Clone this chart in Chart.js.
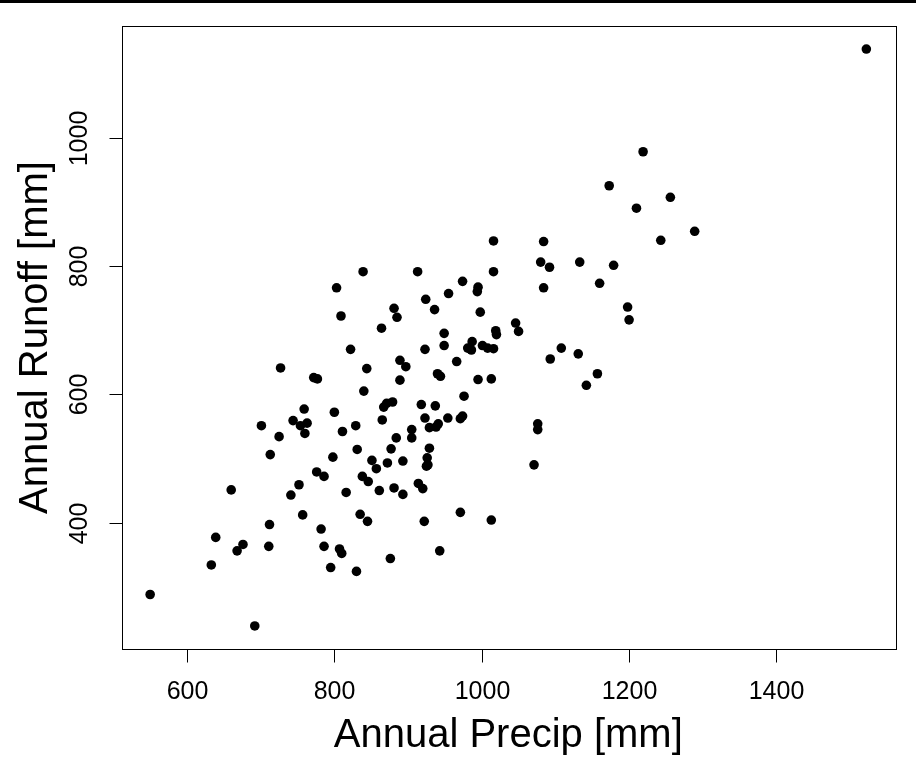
<!DOCTYPE html>
<html>
<head>
<meta charset="utf-8">
<script src="https://cdn.jsdelivr.net/npm/chart.js@4.4.0/dist/chart.umd.min.js"></script>
<style>
  html, body { margin: 0; padding: 0; background: #ffffff; }
  #c { display: block; }
</style>
</head>
<body>
<canvas id="c" width="916" height="771"></canvas>
<script>
// ---- Data ----
const precip = [
  759, 800, 867, 871, 879, 701, 744, 754, 763, 760, 725, 811, 829, 865, 905, 905, 884, 877, 872, 893,
  851, 857, 831, 798, 713, 776, 786, 752, 741, 816, 838, 846, 861, 881, 893, 914, 660, 757, 835, 845,
  712, 782, 639, 676, 668, 711, 786, 807, 810, 876, 633, 795, 830, 550, 692,
  839, 913, 803, 881, 885, 809, 864, 822, 889, 897, 889, 844, 840, 727, 772, 777,
  974, 995, 994, 924, 955, 936, 998, 949, 1019, 1020, 923, 949, 987, 981, 986, 1001, 1008, 1016, 966, 940,
  944, 995, 1013, 976, 918, 937, 923, 954, 971, 974, 929, 938, 941, 929, 926, 925, 927, 920, 922, 971,
  1013, 943, 1016, 1016,
  1084, 1080, 1092, 1133, 1179, 1084, 1160, 1198, 1200, 1046, 1050, 1108, 1131, 1093, 1157, 1142, 1076, 1076, 1071,
  1219, 1173, 1256, 1210, 1289, 1243, 1522
];
const runoff = [
  577, 572, 580, 586, 588, 551, 559, 551, 555, 539, 534, 542, 551, 560, 545, 532, 532, 515, 493, 496,
  497, 484, 514, 502, 506, 479, 472, 459, 443, 447, 472, 464, 450, 454, 444, 461, 451, 412, 413, 402,
  397, 390, 377, 366, 356, 363, 363, 359, 352, 344, 334, 330, 324, 288, 239,
  791, 791, 766, 734, 720, 722, 703, 670, 653, 643, 622, 640, 605, 641, 626, 624,
  776, 767, 760, 748, 757, 732, 728, 695, 699, 693, 670, 676, 682, 672, 669, 676, 672, 671, 651, 632,
  628, 623, 624, 597, 584, 582, 563, 563, 562, 566, 548, 549, 554, 516, 501, 488, 490, 453, 402, 416,
  404, 356, 839, 791,
  838, 806, 798, 806, 801, 766, 773, 736, 716, 711, 698, 672, 663, 655, 632, 614, 554, 545, 490,
  978, 925, 907, 890, 854, 840, 1138
];
const xTicks = [600, 800, 1000, 1200, 1400];
const yTicks = [400, 600, 800, 1000];
const xTitle = "Annual Precip [mm]";
const yTitle = "Annual Runoff [mm]";

// R-style axis extension: data range padded by 4% on each side
function rRange(arr) {
  const lo = Math.min(...arr), hi = Math.max(...arr);
  const d = (hi - lo) * 0.04;
  return [lo - d, hi + d];
}
const [xMin, xMax] = rRange(precip);
const [yMin, yMax] = rRange(runoff);

const points = precip.map((p, i) => ({ x: p, y: runoff[i] }));

const FONT = '"Liberation Sans", Arial, Helvetica, sans-serif';

const rAxesPlugin = {
  id: 'rAxes',
  afterDraw(chart) {
    const ctx = chart.ctx;
    const a = chart.chartArea;
    const xs = chart.scales.x, ys = chart.scales.y;
    ctx.save();
    // top border bar of the image
    ctx.fillStyle = '#000';
    ctx.fillRect(0, 0, chart.width, 3);
    // plot box
    ctx.strokeStyle = '#000';
    ctx.lineWidth = 1;
    ctx.strokeRect(Math.round(a.left) + 0.5, Math.round(a.top) + 0.5,
                   Math.round(a.right - a.left), Math.round(a.bottom - a.top));
    const tickLen = 13;
    ctx.fillStyle = '#000';
    // x ticks + labels
    ctx.font = '25px ' + FONT;
    ctx.textAlign = 'center';
    ctx.textBaseline = 'alphabetic';
    const xb = Math.round(a.bottom) + 0.5;
    xTicks.forEach(v => {
      const px = Math.round(xs.getPixelForValue(v)) + 0.5;
      ctx.beginPath();
      ctx.moveTo(px, xb);
      ctx.lineTo(px, xb + tickLen);
      ctx.stroke();
      ctx.fillText(String(v), px, a.bottom + 50);
    });
    // y ticks + rotated labels
    const yl = Math.round(a.left) + 0.5;
    yTicks.forEach(v => {
      const py = Math.round(ys.getPixelForValue(v)) + 0.5;
      ctx.beginPath();
      ctx.moveTo(yl, py);
      ctx.lineTo(yl - tickLen, py);
      ctx.stroke();
      ctx.save();
      ctx.translate(a.left - 35, py);
      ctx.rotate(-Math.PI / 2);
      ctx.fillText(String(v), 0, 0);
      ctx.restore();
    });
    // axis titles
    ctx.font = '40px ' + FONT;
    ctx.fillText(xTitle, (a.left + a.right) / 2, a.bottom + 98);
    ctx.save();
    ctx.translate(a.left - 75, (a.top + a.bottom) / 2);
    ctx.rotate(-Math.PI / 2);
    ctx.fillText(yTitle, 0, 0);
    ctx.restore();
    ctx.restore();
  }
};

new Chart(document.getElementById('c'), {
  type: 'scatter',
  data: {
    datasets: [{
      data: points,
      backgroundColor: '#000',
      borderColor: '#000',
      borderWidth: 0,
      pointRadius: 4.8,
      pointHoverRadius: 4.8
    }]
  },
  options: {
    responsive: false,
    devicePixelRatio: 1,
    animation: false,
    events: [],
    layout: { padding: { left: 0, right: 21, top: 26, bottom: 0 } },
    plugins: { legend: { display: false }, tooltip: { enabled: false }, title: { display: false } },
    scales: {
      x: {
        type: 'linear', min: xMin, max: xMax,
        grid: { display: false }, border: { display: false },
        ticks: { display: false },
        afterFit(s) { s.height = 122; }
      },
      y: {
        type: 'linear', min: yMin, max: yMax,
        grid: { display: false }, border: { display: false },
        ticks: { display: false },
        afterFit(s) { s.width = 121.5; }
      }
    }
  },
  plugins: [rAxesPlugin]
});
</script>
</body>
</html>
